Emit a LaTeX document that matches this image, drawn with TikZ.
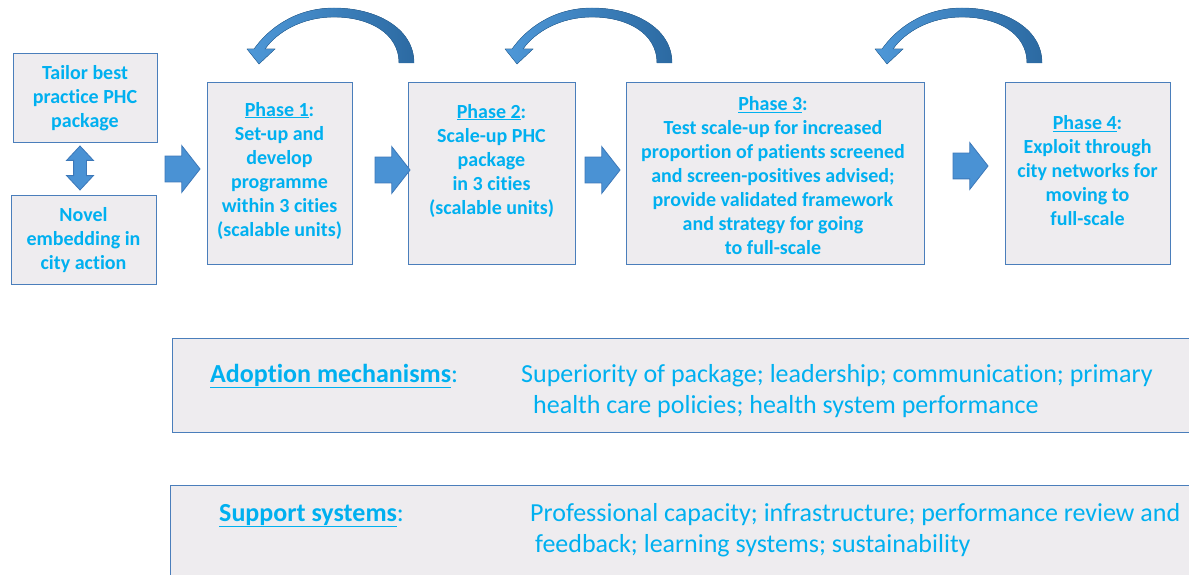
\documentclass[tikz,border=0pt]{standalone}
\usepackage{fontspec}
\setmainfont{Carlito}[Ligatures=NoCommon]
\usetikzlibrary{shapes.arrows,calc}
\definecolor{txtblue}{RGB}{0,176,240}
\definecolor{boxfill}{RGB}{238,236,239}
\definecolor{boxline}{RGB}{74,126,187}
\definecolor{arrfill}{RGB}{74,146,212}
\definecolor{arrline}{RGB}{60,120,185}
\definecolor{curvL}{RGB}{78,152,216}
\definecolor{curvR}{RGB}{44,106,162}
\newcommand\phaselbl[1]{\underline{Phase #1}:}
\newcommand\loopback[1]{%
  \fill[left color=curvL,right color=curvR,draw=curvR,line width=0.4pt]
    (#1,63) .. controls (#1,28) and (#1-38,8) .. (#1-80,8)
    .. controls (#1-118,8) and (#1-145,28) .. (#1-160,49)
    -- (#1-167,49) -- (#1-155,64) -- (#1-139,49) -- (#1-149,49)
    .. controls (#1-137,32) and (#1-112,17) .. (#1-80,17)
    .. controls (#1-45,17) and (#1-15,33) .. (#1-15,63) -- cycle;}
\begin{document}
\begin{tikzpicture}[x=1pt,y=-1pt,
  stagebox/.style={draw=boxline,fill=boxfill,line width=1.1pt,inner sep=0pt,anchor=north west},
  infobox/.style={draw=boxline,fill=boxfill,line width=0.9pt,inner sep=0pt,anchor=north west},
  stagetxt/.style={text=txtblue,font=\fontsize{20}{24}\selectfont\bfseries,align=center,inner sep=0pt},
  bottxt/.style={text=txtblue,font=\fontsize{26}{31}\selectfont,inner sep=0pt,anchor=base west},
  rarrow/.style={single arrow,draw=arrline,fill=arrfill,line width=0.8pt,minimum height=35pt,
    inner xsep=0pt,inner ysep=12.5pt,single arrow head extend=10.5pt,single arrow tip angle=104},
  vdarrow/.style={double arrow,draw=arrline,fill=arrfill,line width=0.8pt,minimum height=44pt,
    inner xsep=0pt,inner ysep=6pt,double arrow head extend=7pt,double arrow tip angle=86,rotate=90}
]
\clip (0,0) rectangle (1189,575);
\fill[white] (0,0) rectangle (1189,575);
% boxes
\node[stagebox,minimum width=144pt,minimum height=89pt] (tailor) at (13,53) {};
\node[stagebox,minimum width=145pt,minimum height=89pt] (novel) at (11,195) {};
\node[stagebox,minimum width=145pt,minimum height=182pt] (p1) at (207,82) {};
\node[stagebox,minimum width=167pt,minimum height=182pt] (p2) at (408,82) {};
\node[stagebox,minimum width=298pt,minimum height=182pt] (p3) at (626,82) {};
\node[stagebox,minimum width=165pt,minimum height=182pt] (p4) at (1005,82) {};
\node[infobox,minimum width=1100pt,minimum height=94pt] (adopt) at (172,338) {};
\node[infobox,minimum width=1100pt,minimum height=150pt] (support) at (170,485) {};
% box texts
\node[stagetxt] (tailortxt) at (85,98) {Tailor best\\practice PHC\\package};
\node[stagetxt] (noveltxt) at (83.5,240) {Novel\\embedding in\\city action};
\node[stagetxt] (p1txt) at (279.5,170.5) {\phaselbl{1}\\Set-up and\\develop\\programme\\within 3 cities\\(scalable units)};
\node[stagetxt] (p2txt) at (491.5,160.5) {\phaselbl{2}\\Scale-up PHC\\package\\in 3 cities\\(scalable units)};
\node[stagetxt] (p3txt) at (773,176) {\phaselbl{3}\\Test scale-up for increased\\proportion of patients screened\\and screen-positives advised;\\provide validated framework\\and strategy for going\\to full-scale};
\node[stagetxt] (p4txt) at (1087.5,171) {\phaselbl{4}\\Exploit through\\city networks for\\moving to\\full-scale};
% block arrows
\node[vdarrow] (dbl) at (80,168) {};
\node[rarrow] (a1) at (177.5,169) {};
\node[rarrow] (a2) at (387.5,170) {};
\node[rarrow] (a3) at (597.5,170) {};
\node[rarrow] (a4) at (965.5,166) {};
% feedback arrows
\loopback{414}
\loopback{672}
\loopback{1042}
% bottom texts
\node[bottxt] (adoptlbl) at (210,382) {\textbf{\underline{Adoption mechanisms}}:};
\node[bottxt] (adoptl1) at (521,382) {Superiority of package; leadership; communication; primary};
\node[bottxt] (adoptl2) at (533,413) {health care policies; health system performance};
\node[bottxt] (suplbl) at (219,521) {\textbf{\underline{Support systems}}:};
\node[bottxt] (supl1) at (530,521) {Professional capacity; infrastructure; performance review and};
\node[bottxt] (supl2) at (535,552) {feedback; learning systems; sustainability};
\end{tikzpicture}
\end{document}
